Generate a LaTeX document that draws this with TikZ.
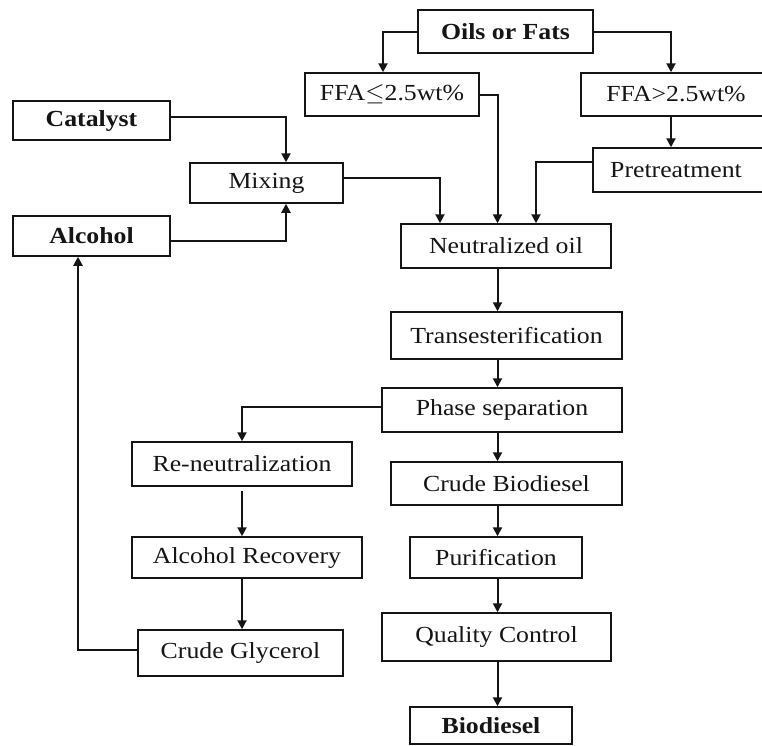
\documentclass[tikz,border=0pt]{standalone}
\usepackage{fontspec}
\setmainfont{Liberation Serif}[FakeStretch=1.12]
\usetikzlibrary{arrows.meta}
\definecolor{ink}{HTML}{151515}
\begin{document}
\begin{tikzpicture}[x=1pt,y=-1pt,
  box/.style={draw=ink, line width=1.5pt, rectangle, inner sep=0pt, text=ink,
    font=\fontsize{23pt}{27pt}\selectfont},
  bbox/.style={box, font=\fontsize{23pt}{27pt}\selectfont\bfseries},
  arr/.style={draw=ink, line width=2pt, -{Triangle[length=9pt,width=9pt]}}]
\useasboundingbox (0,0) rectangle (762,745);
\clip (0,0) rectangle (762,745);
\fill[white] (0,0) rectangle (762,745);
% nodes
\node[bbox, minimum width=175pt, minimum height=43pt] (oils) at (505.5,31.5) {Oils or Fats};
\node[box, minimum width=174pt, minimum height=43pt] (ffal) at (392,94.5) {FFA$\leq$2.5wt\%};
\node[box, minimum width=190pt, minimum height=43pt] (ffag) at (676,94.5) {FFA>2.5wt\%};
\node[box, minimum width=178pt, minimum height=44pt] (pre) at (682,170) {\hspace*{-12pt}Pretreatment};
\node[bbox, minimum width=157pt, minimum height=39pt] (cat) at (91.5,120.5) {Catalyst};
\node[box, minimum width=153pt, minimum height=40pt] (mix) at (266.5,183) {Mixing};
\node[bbox, minimum width=157pt, minimum height=40pt] (alc) at (91.5,236) {Alcohol};
\node[box, minimum width=210pt, minimum height=44pt] (neu) at (506,246) {Neutralized oil};
\node[box, minimum width=231pt, minimum height=47pt] (tra) at (506.5,335.5) {Transesterification};
\node[box, minimum width=240pt, minimum height=44pt] (pha) at (502,410) {Phase separation};
\node[box, minimum width=231pt, minimum height=43pt] (cbd) at (506.5,483.5) {Crude Biodiesel};
\node[box, minimum width=172pt, minimum height=41pt] (pur) at (496,557.5) {Purification};
\node[box, minimum width=229pt, minimum height=48pt] (qc) at (496.5,637) {Quality Control};
\node[bbox, minimum width=162pt, minimum height=37pt] (bio) at (491,725.5) {Biodiesel};
\node[box, minimum width=220pt, minimum height=44pt] (ren) at (242,464) {Re-neutralization};
\node[box, minimum width=230pt, minimum height=41pt] (arec) at (247,557.5) {Alcohol Recovery};
\node[box, minimum width=205pt, minimum height=46pt] (cgly) at (240.5,653) {Crude Glycerol};
% trunk coordinates
\coordinate (trunk) at (497.5,0);
\coordinate (lcol) at (242,0);
% connectors
\draw[arr] (oils.west) -| ([xshift=-9pt]ffal.north);
\draw[arr] (oils.east) -| (ffag.north -| 671,0);
\draw[arr] (ffag.south -| 671,0) -- (pre.north -| 671,0);
\draw[arr] (ffal.east) -| (neu.north -| trunk);
\draw[arr] ([yshift=8pt]pre.west) -| ([xshift=30pt]neu.north);
\draw[arr] ([yshift=5pt]mix.east) -| ([xshift=-66pt]neu.north);
\draw[arr] ([yshift=3.5pt]cat.east) -| ([xshift=19.5pt]mix.north);
\draw[arr] ([yshift=-5pt]alc.east) -| ([xshift=19.5pt]mix.south);
\draw[arr] (neu.south -| trunk) -- (tra.north -| trunk);
\draw[arr] (tra.south -| trunk) -- (pha.north -| trunk);
\draw[arr] (pha.south -| trunk) -- (cbd.north -| trunk);
\draw[arr] (cbd.south -| trunk) -- (pur.north -| trunk);
\draw[arr] (pur.south -| trunk) -- (qc.north -| trunk);
\draw[arr] (qc.south -| trunk) -- (bio.north -| trunk);
\draw[arr] ([yshift=3pt]pha.west) -| (ren.north -| lcol);
\draw[arr] ([yshift=-4pt]ren.south -| lcol) -- (arec.north -| lcol);
\draw[arr] (arec.south -| lcol) -- (cgly.north -| lcol);
\draw[arr] ([yshift=3pt]cgly.west) -| ([xshift=-13.5pt]alc.south);
\end{tikzpicture}
\end{document}
